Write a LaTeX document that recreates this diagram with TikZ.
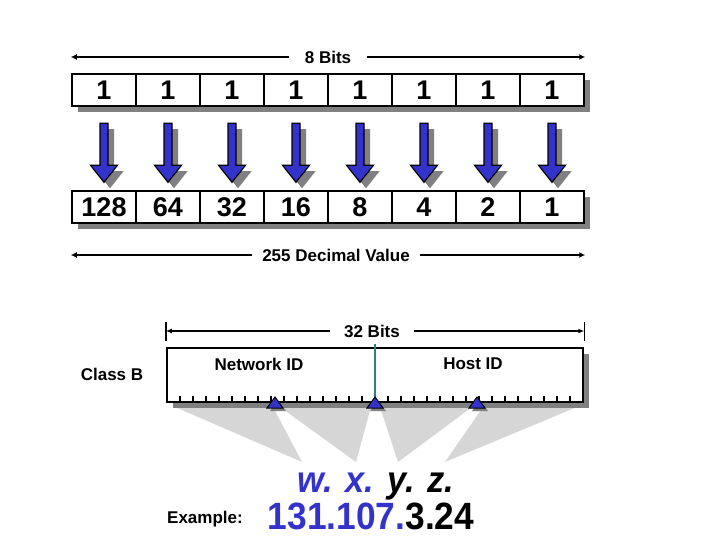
\documentclass[tikz,border=0pt]{standalone}
\usepackage{fontspec}
\setmainfont{Liberation Sans}
\newfontfamily\bigsans[FakeStretch=0.93]{Liberation Sans}
\usepackage{tikz}
\usetikzlibrary{arrows.meta, positioning, calc, shadows}
\definecolor{ipblue}{RGB}{51,51,204}
\definecolor{shadegray}{RGB}{128,128,128}
\definecolor{fangray}{RGB}{214,214,214}
\definecolor{splitteal}{RGB}{51,128,128}
\tikzset{
  boxshadow/.style={drop shadow={shadow xshift=6pt, shadow yshift=-6pt, fill=shadegray, opacity=1}},
  cell/.style={draw, line width=2.5pt, fill=white, minimum width=64pt, minimum height=32pt,
    inner sep=0pt, font=\fontsize{27}{30}\selectfont\bfseries, boxshadow},
  lbl/.style={font=\fontsize{17}{20}\selectfont\bfseries},
  dimline/.style={line width=2.5pt, -{Latex[length=6pt,width=6pt]}},
  blockarrow/.style={fill=ipblue, draw=black, line width=1.2pt},
}
\begin{document}
\begin{tikzpicture}[x=1pt, y=-1pt]
  \useasboundingbox (0,0) rectangle (720,540);
  % one byte, every bit set, and the weight of each bit
  \foreach \i/\v in {1/128,2/64,3/32,4/16,5/8,6/4,7/2,8/1} {
    \node[cell] (b\i) at ({40+64*\i},90) {1};
    \node[cell] (v\i) at ({40+64*\i},207) {\v};
  }
  % block arrows, shadow first
  \foreach \i in {1,...,8} {
    \begin{scope}[shift={(b\i.south)}]
      \fill[shadegray] (2,22) -- (10,22) -- (10,64) -- (19.5,64) -- (6,81) -- (-7.5,64) -- (2,64) -- cycle;
      \filldraw[blockarrow] (-4,16) -- (4,16) -- (4,58) -- (13.5,58) -- (0,75) -- (-13.5,58) -- (-4,58) -- cycle;
    \end{scope}
  }
  % span labels
  \node[lbl, inner xsep=16pt] (bits8) at (328,57) {8 Bits};
  \draw[dimline] (bits8.west) -- (bits8.west -| b1.west);
  \draw[dimline] (bits8.east) -- (bits8.east -| b8.east);
  \node[lbl, inner xsep=10pt] (dec) at (336,255) {255 Decimal Value};
  \draw[dimline] (dec.west) -- (dec.west -| v1.west);
  \draw[dimline] (dec.east) -- (dec.east -| v8.east);

  % fans from the byte marks down to the letters
  \fill[fangray] (175,407) -- (273,407) -- (302,462) -- cycle;
  \fill[fangray] (280,407) -- (371,407) -- (356,462) -- cycle;
  \fill[fangray] (380,407) -- (472,407) -- (398,462) -- cycle;
  \fill[fangray] (483,407) -- (577,407) -- (445,462) -- cycle;

  % 32 bit address, class B
  \node[draw, line width=2.5pt, fill=white, minimum width=416pt, minimum height=54pt, boxshadow] (addr) at (375,375) {};
  \foreach \k in {1,...,31}
    \draw[line width=1.2pt] ({167+13*\k},401) -- ++(0,-5);
  \draw[splitteal, line width=2pt] ($(addr.north)+(0,-3)$) -- (addr.south);
  \node[lbl] (net) at (259,364) {Network ID};
  \node[lbl] (host) at (473,364) {Host ID};
  \node[lbl] (classb) at (112,374) {Class B};

  \node[lbl, inner xsep=14pt] (bits32) at (372,331) {32 Bits};
  \draw[line width=2pt, -{Latex[length=6pt,width=5pt]}] (bits32.west) -- (bits32.west -| addr.west);
  \draw[line width=2pt, -{Latex[length=6pt,width=5pt]}] (bits32.east) -- (bits32.east -| addr.east);
  \draw[line width=1.5pt] (bits32.west -| addr.west) ++(0,-9) -- ++(0,19);
  \draw[line width=1.5pt] (bits32.east -| addr.east) ++(0,-9) -- ++(0,19);

  % byte marks
  \foreach \x in {275,375,477} {
    \fill[shadegray] (\x+3,400) -- (\x+11,411) -- (\x-5,411) -- cycle;
    \filldraw[fill=ipblue, draw=black, line width=1pt] (\x,397) -- (\x+8,408) -- (\x-8,408) -- cycle;
  }

  % dotted notation and example
  \node[font=\bigsans\fontsize{37}{40}\selectfont\bfseries\itshape, anchor=base] (wxyz) at (376,492) {\textcolor{ipblue}{w. x.} y. z.};
  \node[font=\bigsans\fontsize{38}{42}\selectfont\bfseries] (addrex) at (371,516.5) {\textcolor{ipblue}{131.107.}3.24};
  \node[lbl] (exlbl) at (205,519) {Example:};
\end{tikzpicture}
\end{document}
